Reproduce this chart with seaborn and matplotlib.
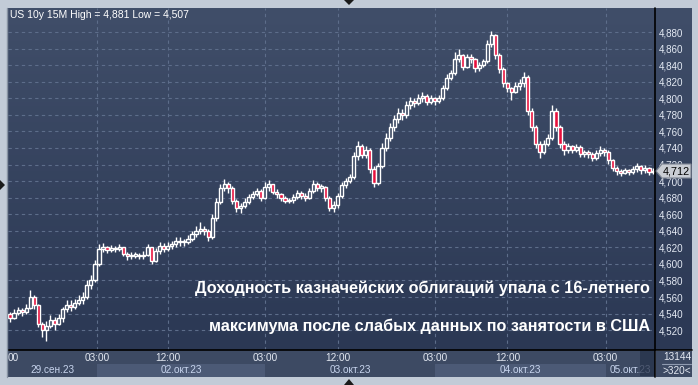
import numpy as np
import pandas as pd
import matplotlib
matplotlib.use("Agg")
import matplotlib.pyplot as plt
import seaborn as sns
from matplotlib.patches import Rectangle, Polygon
from matplotlib.lines import Line2D

# ---------------- data ----------------
first_open = 4.540
closes = [
    4.535, 4.541, 4.544, 4.542, 4.547, 4.560, 4.550, 4.528, 4.520, 4.525,
    4.532, 4.528, 4.535, 4.545, 4.550, 4.548, 4.553, 4.556, 4.560, 4.575,
    4.580, 4.600, 4.618, 4.620, 4.617, 4.619, 4.618, 4.620, 4.612, 4.609,
    4.610, 4.611, 4.609, 4.611, 4.620, 4.604, 4.615, 4.622, 4.618, 4.622,
    4.624, 4.628, 4.626, 4.627, 4.630, 4.636, 4.640, 4.642, 4.640, 4.633,
    4.655, 4.675, 4.692, 4.697, 4.692, 4.676, 4.668, 4.670, 4.675, 4.681,
    4.684, 4.688, 4.680, 4.693, 4.696, 4.687, 4.684, 4.680, 4.676, 4.677,
    4.681, 4.686, 4.682, 4.680, 4.688, 4.697, 4.692, 4.693, 4.680, 4.668,
    4.671, 4.682, 4.695, 4.700, 4.705, 4.730, 4.742, 4.732, 4.738, 4.715,
    4.698, 4.718, 4.740, 4.752, 4.765, 4.775, 4.782, 4.780, 4.792, 4.797,
    4.794, 4.800, 4.803, 4.796, 4.800, 4.797, 4.800, 4.812, 4.825, 4.830,
    4.848, 4.852, 4.838, 4.850, 4.847, 4.836, 4.840, 4.845, 4.865, 4.876,
    4.852, 4.835, 4.818, 4.812, 4.808, 4.815, 4.818, 4.826, 4.785, 4.765,
    4.745, 4.735, 4.745, 4.752, 4.785, 4.765, 4.745, 4.737, 4.742, 4.738,
    4.741, 4.733, 4.735, 4.733, 4.728, 4.734, 4.738, 4.735, 4.725, 4.716,
    4.712, 4.710, 4.713, 4.711, 4.714, 4.718, 4.713, 4.716, 4.711, 4.712,
]
highs = [
    4.542, 4.546, 4.548, 4.547, 4.552, 4.569, 4.563, 4.552, 4.530, 4.531,
    4.538, 4.536, 4.540, 4.548, 4.556, 4.556, 4.558, 4.562, 4.566, 4.580,
    4.586, 4.605, 4.624, 4.625, 4.622, 4.623, 4.621, 4.624, 4.620, 4.614,
    4.614, 4.614, 4.613, 4.615, 4.624, 4.620, 4.619, 4.626, 4.625, 4.626,
    4.628, 4.632, 4.632, 4.630, 4.635, 4.640, 4.646, 4.650, 4.646, 4.642,
    4.660, 4.680, 4.697, 4.702, 4.699, 4.694, 4.678, 4.674, 4.680, 4.684,
    4.688, 4.692, 4.690, 4.699, 4.701, 4.697, 4.690, 4.686, 4.682, 4.680,
    4.684, 4.689, 4.688, 4.685, 4.692, 4.701, 4.699, 4.697, 4.694, 4.682,
    4.676, 4.686, 4.699, 4.704, 4.709, 4.735, 4.748, 4.745, 4.742, 4.740,
    4.718, 4.722, 4.746, 4.758, 4.770, 4.780, 4.788, 4.787, 4.797, 4.801,
    4.800, 4.805, 4.808, 4.805, 4.804, 4.802, 4.804, 4.816, 4.829, 4.834,
    4.856, 4.860, 4.853, 4.854, 4.853, 4.849, 4.844, 4.848, 4.870, 4.881,
    4.878, 4.855, 4.838, 4.820, 4.814, 4.820, 4.823, 4.832, 4.828, 4.788,
    4.768, 4.748, 4.750, 4.757, 4.792, 4.788, 4.768, 4.748, 4.746, 4.744,
    4.745, 4.743, 4.738, 4.737, 4.735, 4.738, 4.742, 4.740, 4.737, 4.727,
    4.718, 4.715, 4.716, 4.715, 4.718, 4.722, 4.719, 4.719, 4.717, 4.716,
]
lows = [
    4.530, 4.533, 4.538, 4.537, 4.540, 4.545, 4.546, 4.524, 4.512, 4.507,
    4.522, 4.520, 4.526, 4.530, 4.542, 4.543, 4.545, 4.550, 4.552, 4.558,
    4.570, 4.578, 4.598, 4.614, 4.613, 4.614, 4.614, 4.615, 4.609, 4.605,
    4.606, 4.607, 4.606, 4.606, 4.610, 4.600, 4.602, 4.612, 4.614, 4.616,
    4.618, 4.620, 4.622, 4.622, 4.624, 4.628, 4.632, 4.636, 4.635, 4.628,
    4.630, 4.652, 4.672, 4.688, 4.686, 4.672, 4.663, 4.661, 4.668, 4.672,
    4.678, 4.682, 4.676, 4.678, 4.688, 4.684, 4.680, 4.676, 4.673, 4.673,
    4.674, 4.678, 4.678, 4.676, 4.678, 4.686, 4.688, 4.687, 4.676, 4.664,
    4.663, 4.668, 4.680, 4.692, 4.698, 4.703, 4.726, 4.728, 4.728, 4.710,
    4.693, 4.695, 4.716, 4.736, 4.748, 4.760, 4.770, 4.774, 4.776, 4.787,
    4.789, 4.792, 4.796, 4.792, 4.793, 4.792, 4.794, 4.798, 4.810, 4.822,
    4.828, 4.844, 4.834, 4.836, 4.842, 4.832, 4.833, 4.838, 4.843, 4.862,
    4.848, 4.830, 4.814, 4.808, 4.798, 4.806, 4.810, 4.814, 4.780, 4.760,
    4.740, 4.728, 4.733, 4.742, 4.750, 4.760, 4.740, 4.732, 4.734, 4.734,
    4.735, 4.729, 4.729, 4.728, 4.724, 4.726, 4.730, 4.730, 4.721, 4.712,
    4.707, 4.706, 4.708, 4.707, 4.709, 4.711, 4.709, 4.710, 4.707, 4.708,
]
price_ticks = [4.52, 4.54, 4.56, 4.58, 4.60, 4.62, 4.64, 4.66, 4.68, 4.70,
               4.72, 4.74, 4.76, 4.78, 4.80, 4.82, 4.84, 4.86, 4.88]
time_tick_pos = [21.5, 39.1, 63.1, 81.2, 105.2, 123.0, 147.3]
time_tick_labels = ["03:00", "12:00", "03:00", "12:00", "03:00", "12:00", "03:00"]
day_bounds = [-0.5, 21.5, 63.1, 105.2, 147.3, 159.5]
day_labels = ["29.сен.23", "02.окт.23", "03.окт.23", "04.окт.23", "05.окт.23"]
title_text = "US 10y 15M High = 4,881 Low = 4,507"
headline = ["Доходность казначейских облигаций упала с 16-летнего",
            "максимума после слабых данных по занятости в США"]
last_price = 4.712
bar_count_text = "13144"
zoom_text = ">320<"

# ---------------- frame ----------------
opens = [first_open] + closes[:-1]
df = pd.DataFrame({"open": opens, "close": closes, "high": highs, "low": lows})
df["high"] = df[["high", "open", "close"]].max(axis=1)
df["low"] = df[["low", "open", "close"]].min(axis=1)
df["x"] = np.arange(len(df))
df["up"] = df["close"] >= df["open"]
N = len(df)

sns.set_style("dark")
plt.rcParams["font.family"] = ["Liberation Sans", "DejaVu Sans"]

W, H = 698, 385


def rect(x0, y0, x1, y1):
    return [x0 / W, 1 - y1 / H, (x1 - x0) / W, (y1 - y0) / H]


def fx(x):
    return x / W


def fy(y):
    return 1 - y / H


fig = plt.figure(figsize=(W / 100, H / 100), dpi=100)
fig.patch.set_facecolor("#c2cbd7")

# gradient background of plot + right scale panel
bg = fig.add_axes(rect(7, 8, 692, 350))
grad = np.linspace(0, 1, 256).reshape(-1, 1)
top = np.array([0x40, 0x4e, 0x69]) / 255
bot = np.array([0x2b, 0x38, 0x54]) / 255
img = top[None, None, :] * (1 - grad[:, :, None]) + bot[None, None, :] * grad[:, :, None]
bg.imshow(img, aspect="auto", extent=[0, 1, 0, 1], origin="upper")
bg.set_axis_off()

# bottom panels
bax = fig.add_axes(rect(8, 350, 655, 377))
bax.set_facecolor("#3d4a63")
bax.set_xlim(-0.5, N - 0.5)
bax.set_ylim(0, 1)
for k in range(len(day_labels)):
    if k % 2 == 1:
        bax.axvspan(day_bounds[k], day_bounds[k + 1], ymin=0.0, ymax=0.48,
                    color="#4c5a76", lw=0)
    bax.text((day_bounds[k] + day_bounds[k + 1]) / 2, 0.25, day_labels[k],
             ha="center", va="center", fontsize=7.2, color="#c8d5ee")
for p, lab in zip(time_tick_pos, time_tick_labels):
    bax.text(p, 0.72, lab, ha="center", va="center", fontsize=7.2, color="#e4e9f2")
bax.text(-0.5, 0.72, "00", ha="left", va="center", fontsize=7.2, color="#e4e9f2")
bax.set_xticks([])
bax.set_yticks([])
for s in bax.spines.values():
    s.set_visible(False)

rax = fig.add_axes(rect(656, 351, 692, 377))
rax.set_facecolor("#3d4a63")
rax.set_xticks([])
rax.set_yticks([])
for s in rax.spines.values():
    s.set_visible(False)
rax.text(0.58, 0.76, bar_count_text, ha="center", va="center", fontsize=7.2,
         color="#e4e9f2", transform=rax.transAxes)
rax.text(0.58, 0.22, zoom_text, ha="center", va="center", fontsize=7.2,
         color="#e4e9f2", transform=rax.transAxes)
rax.add_line(Line2D([0.18, 0.98], [0.49, 0.49], color="#8f9bb0", lw=0.8,
                    transform=rax.transAxes))

# main price axes
ax = fig.add_axes(rect(8, 8, 655, 350))
ax.patch.set_alpha(0)
ax.set_xlim(-0.5, N - 0.5)
ax.set_ylim(4.496, 4.909)
ax.set_yticks(price_ticks)
ax.set_yticklabels([f"{v:.3f}".replace(".", ",") for v in price_ticks])
ax.yaxis.tick_right()
ax.set_xticks(time_tick_pos)
ax.set_xticklabels([])
ax.tick_params(axis="y", length=0, pad=3, labelsize=7.1, labelcolor="#e3e9f3")
ax.tick_params(axis="x", length=0)
ax.grid(True, color="#5d6d8a", lw=0.8, linestyle=(0, (3, 3)))
for s in ax.spines.values():
    s.set_visible(False)

# candles
ax.vlines(df["x"], df["low"], df["high"], color="white", lw=1.0, zorder=3)
body_h = (df["close"] - df["open"]).abs().clip(lower=0.0015)
body_b = df[["open", "close"]].min(axis=1)
fills = np.where(df["up"], "#36445e", "#e8103c")
ax.bar(df["x"], body_h, bottom=body_b, width=0.78, color=fills,
       edgecolor="white", linewidth=1.0, zorder=4)

# separators
fig.add_artist(Line2D([fx(655), fx(655)], [fy(8), fy(377)], color="black", lw=1.2))
fig.add_artist(Line2D([fx(8), fx(692)], [fy(350), fy(350)], color="black", lw=1.2))
fig.add_artist(Line2D([fx(7), fx(7)], [fy(8), fy(377)], color="#8893a3", lw=1.0))

# dim box at right end of time panel
fig.add_artist(Rectangle((fx(640), fy(376)), (655 - 640) / W, 25 / H,
                         transform=fig.transFigure, color="#26324a", alpha=0.75, lw=0))

# title
fig.text(fx(10), fy(15), title_text, ha="left", va="center", fontsize=7.5,
         color="white")

# headline
fig.text(fx(650), fy(288), headline[0], ha="right", va="center", fontsize=11.7,
         fontweight="bold", color="white")
fig.text(fx(650), fy(326), headline[1], ha="right", va="center", fontsize=11.7,
         fontweight="bold", color="white")

# last price tag
tag = Polygon([(fx(656), fy(171)), (fx(662), fy(164)), (fx(691), fy(164)),
               (fx(691), fy(178)), (fx(662), fy(178))], closed=True,
              transform=fig.transFigure, facecolor="#c9cdd4", edgecolor="#7d8592",
              lw=0.8, zorder=5)
fig.add_artist(tag)
fig.text(fx(676), fy(171), f"{last_price:.3f}".replace(".", ","), ha="center",
         va="center", fontsize=7.8, color="black", zorder=6)

# navigation arrows on the frame
for pts in ([(344, 0), (354, 0), (349, 5)],
            [(344, 385), (354, 385), (349, 379)],
            [(0, 180), (0, 190), (5, 185)]):
    fig.add_artist(Polygon([(fx(a), fy(b)) for a, b in pts], closed=True,
                           transform=fig.transFigure, color="#1a1a1a", lw=0))

fig.savefig("out.png", dpi=100)
